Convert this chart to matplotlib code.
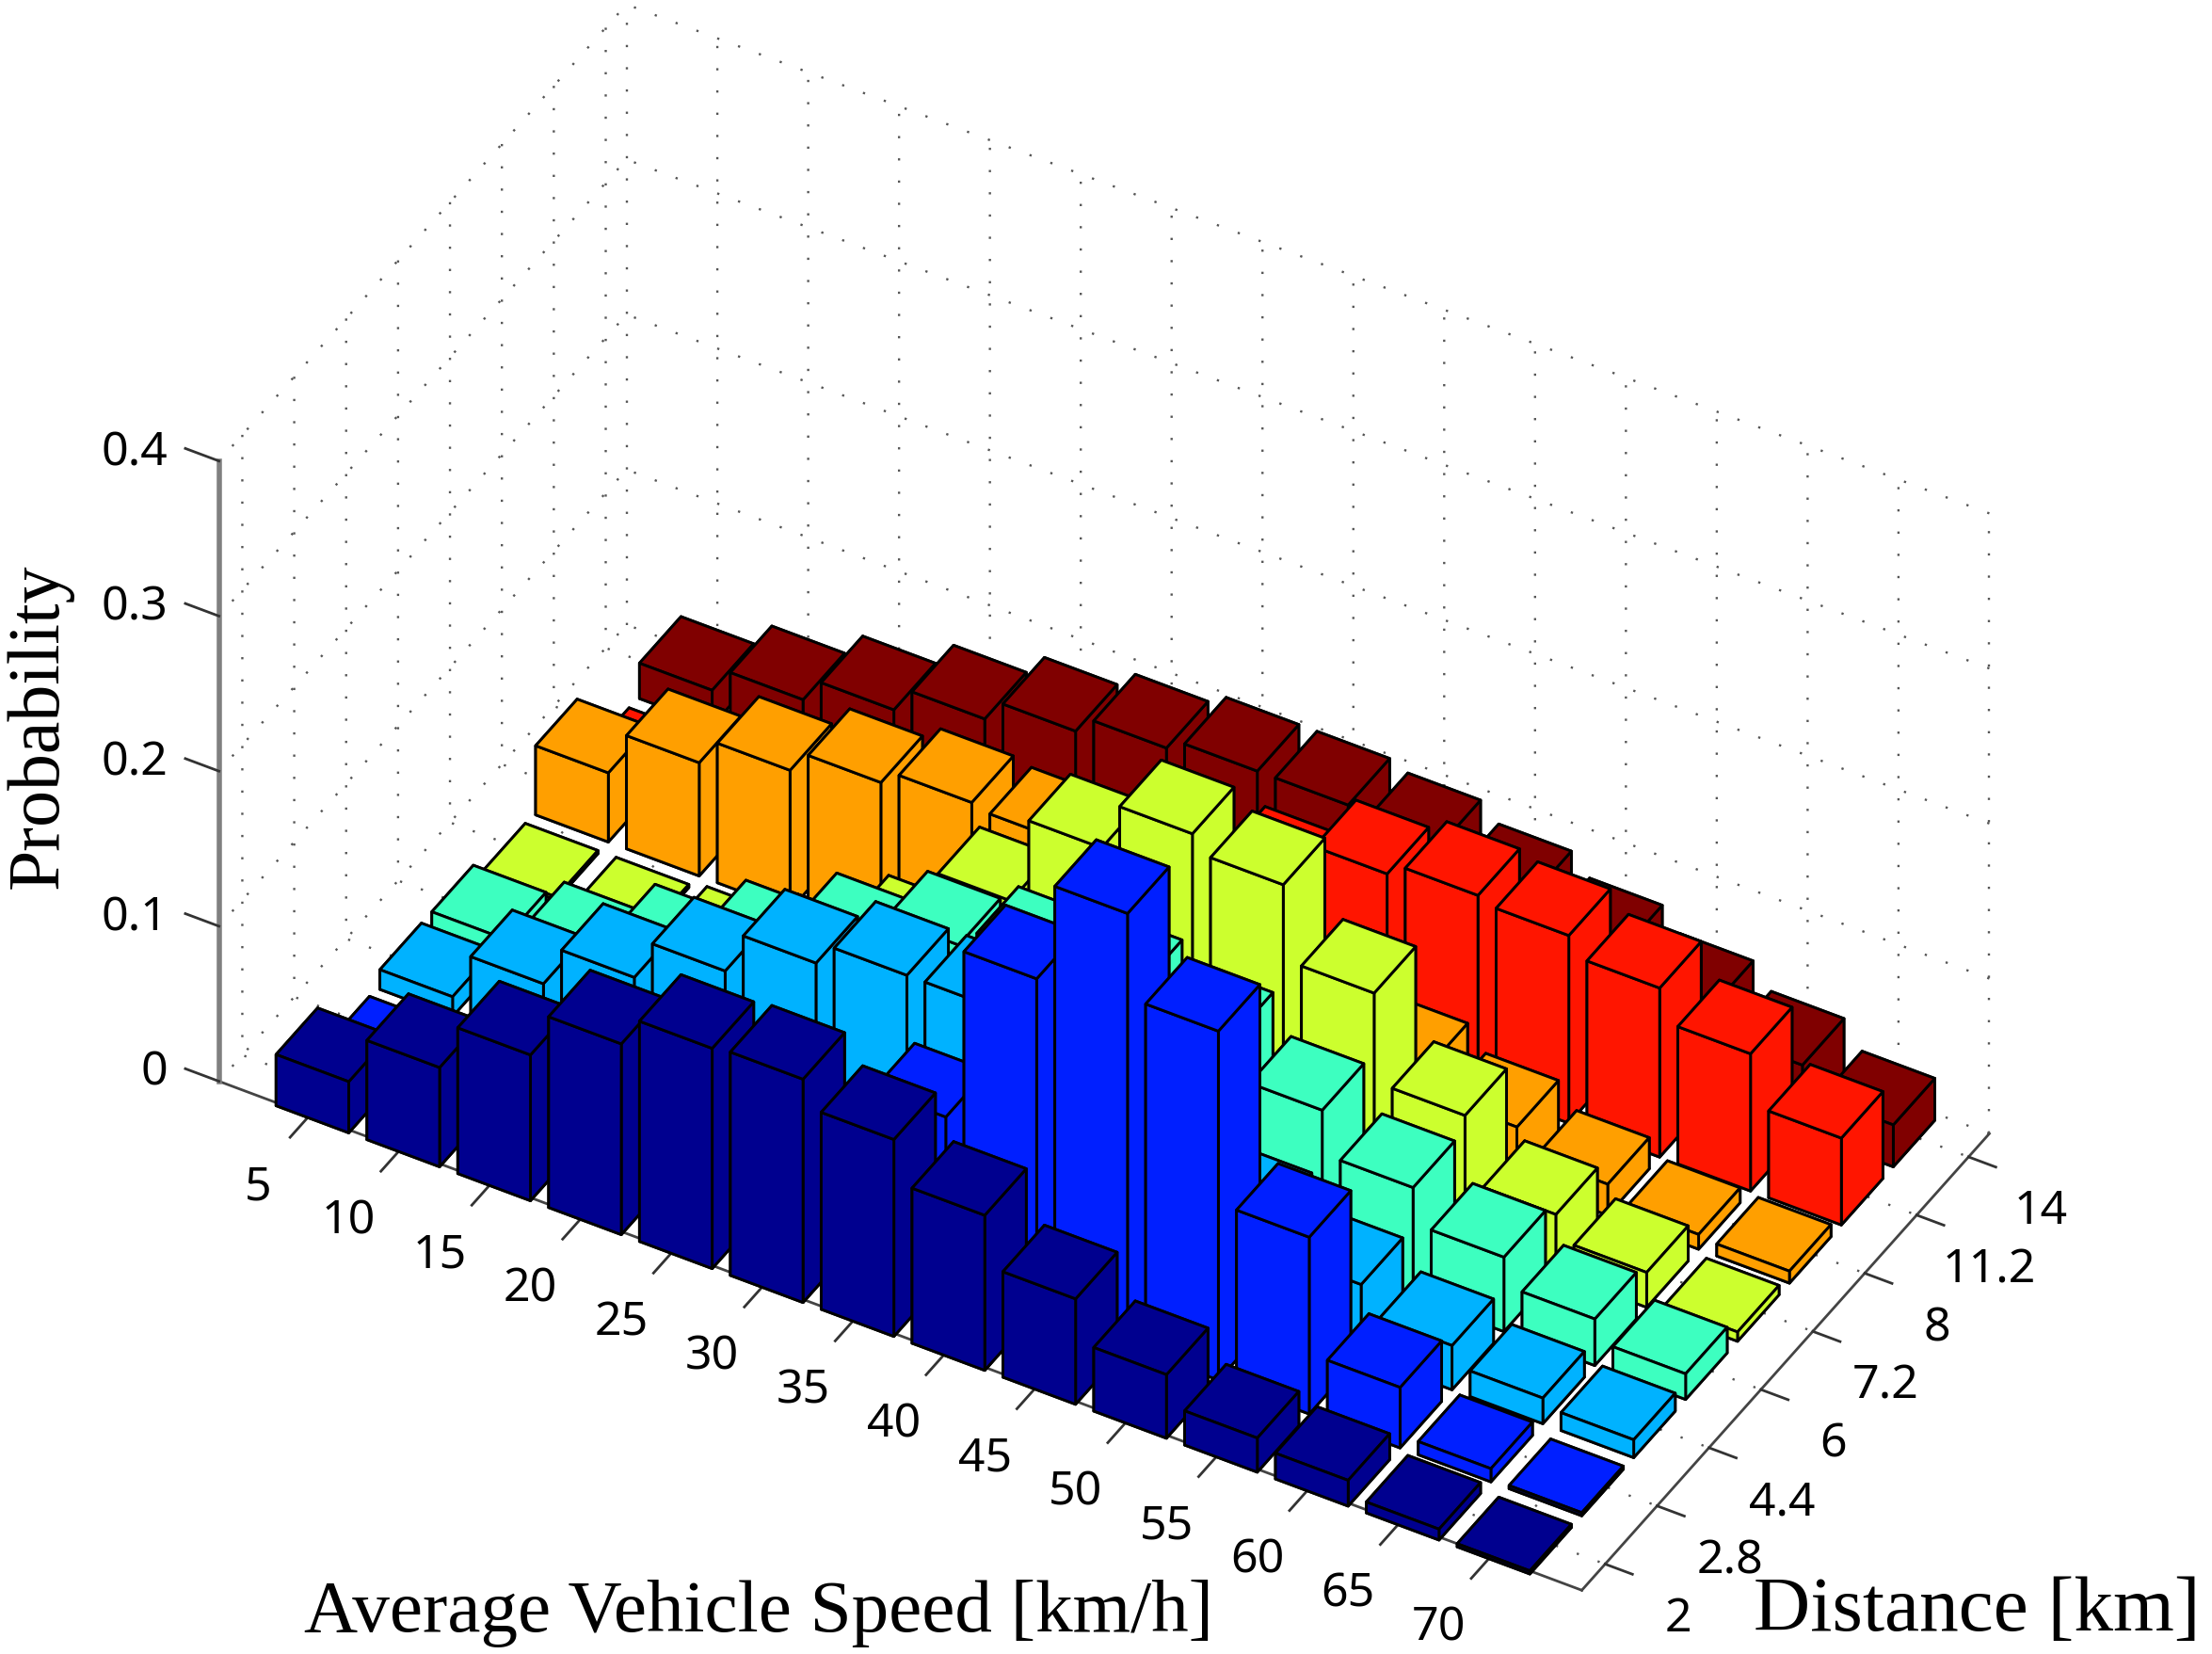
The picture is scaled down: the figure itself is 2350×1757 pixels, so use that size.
import matplotlib
matplotlib.use("Agg")
import numpy as np
import matplotlib.pyplot as plt
from mpl_toolkits.mplot3d import proj3d

speed_labels = ['5', '10', '15', '20', '25', '30', '35', '40', '45', '50', '55', '60', '65', '70']
distance_labels = ['2', '2.8', '4.4', '6', '7.2', '8', '11.2', '14']
prob_ticks = [0, 0.1, 0.2, 0.3, 0.4]
prob_labels = ['0', '0.1', '0.2', '0.3', '0.4']

# one row of bars per distance, speeds from 5 to 70
dist_2 = [.033, .064, .094, .123, .142, .144, .127, .100, .068, .041, .022, .0166, .007, .002]
dist_2_8 = [.003, .006, .01, .015, .022, .05, .104, .215, .279, .225, .114, .039, .0085, .002]
dist_4_4 = [.0127, .043, .069, .095, .122, .136, .136, .115, .09, .066, .046, .0285, .0165, .0115]
dist_6 = [.0125, .0235, .044, .0685, .095, .118, .13, .135, .123, .099, .071, .048, .03, .0165]
dist_7_2 = [.002, .002, .005, .022, .056, .109, .165, .196, .185, .137, .08, .038, .0225, .006]
dist_8 = [.0446, .073, .09, .104, .113, .11, .09, .075, .06, .05, .035, .02, .0095, .0077]
dist_11_2 = [.0015, .003, .006, .01, .02, .03, .06, .091, .117, .125, .121, .109, .0885, .056]
dist_14 = [.0228, .0386, .054, .07, .084, .095, .102, .102, .097, .086, .073, .059, .0437, .027]

rows = [dist_2, dist_2_8, dist_4_4, dist_6, dist_7_2, dist_8, dist_11_2, dist_14]
row_colors = ['#00008f', '#001fff', '#00b2ff', '#3dffc0', '#ccff2e', '#ff9f00', '#ff1500', '#800000']

dots = (0, (1, 9))
plt.rcParams['grid.linestyle'] = dots
plt.rcParams['grid.color'] = '#555555'
plt.rcParams['grid.linewidth'] = 1.7

W, H = 2350, 1757
fig = plt.figure(figsize=(W / 100, H / 100), dpi=100)
side = 2000  # big enough that the bars at the right are not clipped
ax = fig.add_axes([146 / W, -117 / H, side / W, side / H], projection='3d', proj_type='ortho')
ax.computed_zorder = False
ax.view_init(elev=40.3, azim=-60)
ax.set_box_aspect((1672, 866, 864), zoom=2011 / side)
ax.patch.set_alpha(0)

x0, x1 = 0, 15
y0, y1 = 0.55, 8.4
ax.set_xlim(x0, x1)
ax.set_ylim(y0, y1)
ax.set_zlim(0, 0.4)

bar_w = 0.8
bar_floor = -0.0045  # the bars sit a little under the axis line in the original
# painter's order: far row first, left bar first
order = 0
for j in range(len(rows) - 1, -1, -1):
    for i, h in enumerate(rows[j]):
        order += 1
        ax.bar3d(i + 1 - bar_w / 2, j + 1 - bar_w / 2, bar_floor, bar_w, bar_w, h, color=row_colors[j],
                 edgecolor='black', linewidth=2.1, shade=False, zorder=order)

# dotted edges of the back walls
for x_edge in (x0, x1):
    ax.plot([x_edge, x_edge], [y1, y1], [0, 0.4], linestyle=dots, color='#555555', lw=1.7, zorder=0)

x_pos = np.arange(1, len(speed_labels) + 1)
y_pos = np.arange(1, len(distance_labels) + 1)
ax.set_xticks(x_pos)
ax.set_yticks(y_pos)
ax.set_zticks(prob_ticks)
ax.zaxis.set_ticks_position('lower')

for axis in (ax.xaxis, ax.yaxis, ax.zaxis):
    axis.set_pane_color((1, 1, 1, 0))
    axis.pane.set_edgecolor('none')
    axis._axinfo['tick'].update(inward_factor=0, outward_factor=0)
    axis.line.set_color('#444444')
    axis.line.set_linewidth(2)
    axis.label.set_visible(False)
    axis.offsetText.set_visible(False)
    for tick in axis.get_major_ticks():
        tick.label1.set_visible(False)
ax.zaxis.line.set_color('#808080')
ax.zaxis.line.set_linewidth(4)


def label_at(x, y, z, text, ha):
    # flat text at the projected spot, so its box stays where it is drawn
    px, py, _ = proj3d.proj_transform(x, y, z, ax.get_proj())
    ax.text2D(px, py, text, transform=ax.transData, ha=ha, va='center', fontsize=36, family='Noto Sans', zorder=1000)


# tick marks and labels placed by hand, mplot3d can't put them where matlab did
tick_kw = dict(color='#333333', lw=2, zorder=0)
for x, label in zip(x_pos, speed_labels):
    ax.plot([x, x], [y0, y0 - 0.38], [0, 0], **tick_kw)
    label_at(x, y0 - 1.0, -0.009, label, 'center')
for y, label in zip(y_pos, distance_labels):
    ax.plot([x1, x1 + 0.3], [y, y], [0, 0], **tick_kw)
    label_at(x1 + 0.8, y, -0.018, label, 'center')
for z, label in zip(prob_ticks, prob_labels):
    ax.plot([x0, x0 - 0.37], [y0, y0], [z, z], **tick_kw)
    label_at(x0 - 0.56, y0, z - 0.007, label, 'right')

fig.text(806 / W, 1 - 1714 / H, 'Average Vehicle Speed [km/h]', family='Liberation Serif', fontsize=57,
         ha='center', va='center')
fig.text(2100 / W, 1 - 1712 / H, 'Distance [km]', family='Liberation Serif', fontsize=60, ha='center', va='center')
fig.text(42 / W, 1 - 771 / H, 'Probability', family='Liberation Serif', fontsize=56, rotation=90,
         ha='center', va='center')

fig.savefig('out.png', dpi=100)
